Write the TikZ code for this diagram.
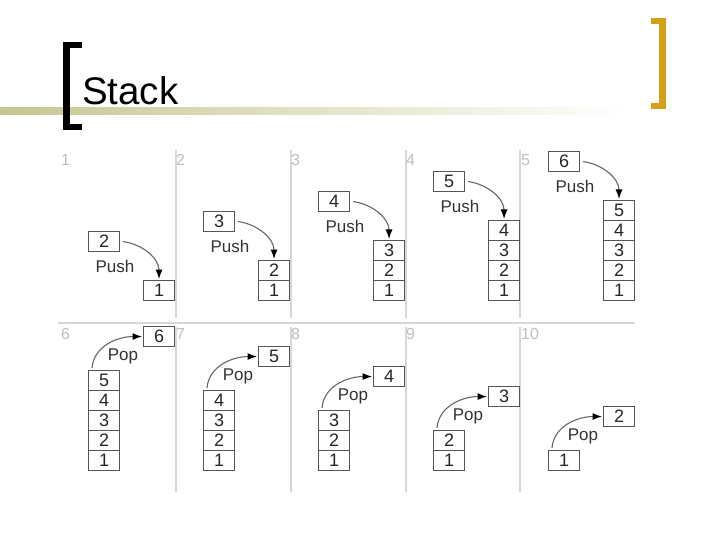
\documentclass[tikz,border=0pt]{standalone}
\usepackage{fontspec}
\setmainfont{Liberation Sans}
\usetikzlibrary{arrows.meta}
\definecolor{goldbr}{RGB}{212,160,23}
\definecolor{olivel}{RGB}{198,198,146}
\definecolor{sepgray}{RGB}{215,215,215}
\definecolor{boxgray}{RGB}{85,85,85}
\definecolor{numgray}{RGB}{190,190,190}
\tikzset{
  nb/.style={draw=boxgray, line width=1.1pt, minimum width=31pt, minimum height=20pt,
    inner sep=0pt, anchor=north west, text=black!85, font=\fontsize{18}{18}\selectfont},
  lab/.style={text=black!80, font=\fontsize{17}{17}\selectfont, inner sep=0pt},
  pnum/.style={text=numgray, font=\fontsize{16}{16}\selectfont, inner sep=0pt, anchor=west},
  arr/.style={draw=black!60, line width=1.1pt, -{Latex[length=9.5pt,width=7pt,color=black]}},
  sep/.style={draw=sepgray, line width=1.2pt},
}
\begin{document}
\begin{tikzpicture}[x=1pt,y=1pt]
\useasboundingbox (0,0) rectangle (720,-540);
% title line
\shade[left color=olivel, middle color=olivel, right color=white] (0,-108) rectangle (630,-115);
% brackets
\draw[line width=6.5pt, line join=miter] (82,-45) -- (66.5,-45) -- (66.5,-127) -- (82,-127);
\draw[goldbr, line width=6.5pt, line join=miter] (651,-21) -- (662.5,-21) -- (662.5,-106) -- (651,-106);
\node[anchor=base west, inner sep=0pt, font=\fontsize{38.5}{38.5}\selectfont] (title) at (82,-105) {Stack};
% separators
\foreach \x in {176,291,406,520} {
  \draw[sep] (\x,-150) -- (\x,-318);
  \draw[sep] (\x,-327) -- (\x,-492);
}
\draw[sep] (58,-323) -- (635,-323);
% panel numbers
\foreach \k in {1,...,5} {
  \node[pnum] (n\k) at ({61+115*(\k-1)},-160) {\k};
}
\foreach \k in {6,...,10} {
  \node[pnum] (n\k) at ({61+115*(\k-6)},-334) {\k};
}
% push row
\foreach \k in {1,...,5} {
  \pgfmathsetmacro\sx{143+115*(\k-1)}
  \foreach \j in {1,...,\k} {
    \node[nb] (t\k-\j) at (\sx,{-(280-20*(\j-1))}) {\j};
  }
  \pgfmathtruncatemacro\nv{\k+1}
  \pgfmathsetmacro\px{88+115*(\k-1)}
  \pgfmathsetmacro\py{231-20*(\k-1)}
  \node[nb] (p\k) at (\px,-\py) {\nv};
  \node[lab] (pl\k) at ({\px+27},{-(\py+35)}) {Push};
  \draw[arr] ([xshift=3pt]p\k.east) to[out=-8,in=90] ([yshift=1pt]t\k-\k.north);
}
% pop row
\foreach \i in {0,...,4} {
  \pgfmathsetmacro\sx{88+115*\i}
  \pgfmathtruncatemacro\n{5-\i}
  \foreach \j in {1,...,\n} {
    \node[nb] (b\i-\j) at (\sx,{-(450-20*(\j-1))}) {\j};
  }
  \pgfmathtruncatemacro\nv{\n+1}
  \pgfmathsetmacro\px{143+115*\i}
  \pgfmathsetmacro\py{326+20*\i}
  \node[nb] (q\i) at (\px,-\py) {\nv};
  \node[lab] (ql\i) at ({\px-20},{-(\py+30)}) {Pop};
  \draw[arr] ([xshift=4pt,yshift=2pt]b\i-\n.north west) to[out=85,in=180] ([xshift=-1pt]q\i.west);
}
\end{tikzpicture}
\end{document}
